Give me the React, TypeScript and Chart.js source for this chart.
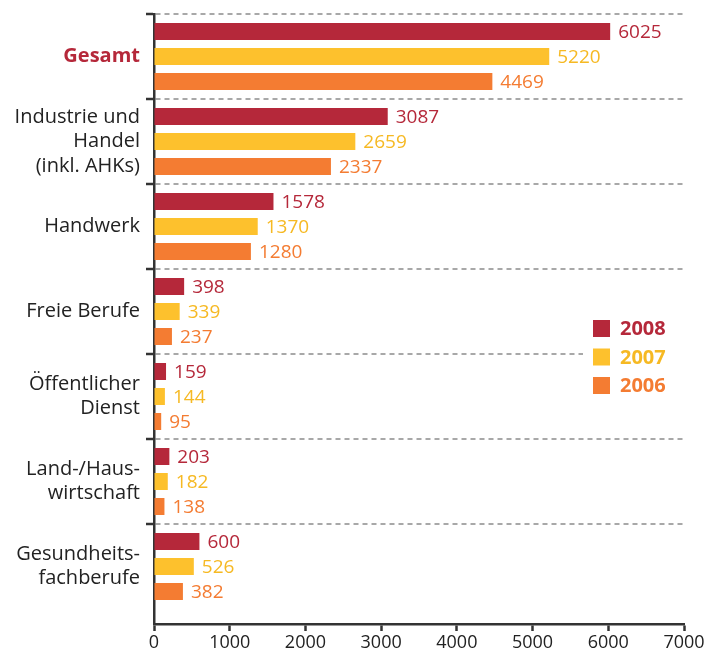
import React, { useEffect, useRef } from "react";
import { Chart, registerables, CategoryScale } from "chart.js";

const categories: (string | string[])[] = [
  "Gesamt",
  ["Industrie und", "Handel", "(inkl. AHKs)"],
  "Handwerk",
  "Freie Berufe",
  ["Öffentlicher", "Dienst"],
  ["Land-/Haus-", "wirtschaft"],
  ["Gesundheits-", "fachberufe"],
];
const seriesNames = ["2008", "2007", "2006"];
const values2008 = [6025, 3087, 1578, 398, 159, 203, 600];
const values2007 = [5220, 2659, 1370, 339, 144, 182, 526];
const values2006 = [4469, 2337, 1280, 237, 95, 138, 382];
const barColors = ["#b5283a", "#fdc12d", "#f47c32"];
const textColors = ["#b5283a", "#f6b923", "#f47c32"];
const xTicks = [0, 1000, 2000, 3000, 4000, 5000, 6000, 7000];

const FONT = "'Open Sans', 'Noto Sans', sans-serif";
const BOTTOM_EXTRA = 15 / 85;

class PaddedCategoryScale extends (CategoryScale as any) {
  static id = "paddedCategory";
  static defaults = (CategoryScale as any).defaults;
  buildTicks() {
    const t = super.buildTicks();
    (this as any)._valueRange += BOTTOM_EXTRA;
    return t;
  }
}

Chart.register(...registerables, PaddedCategoryScale as any);

const valueLabels = {
  id: "valueLabels",
  afterDatasetsDraw(chart: any) {
    const ctx = chart.ctx;
    ctx.save();
    ctx.font = `19px ${FONT}`;
    ctx.textAlign = "left";
    ctx.textBaseline = "middle";
    chart.data.datasets.forEach((ds: any, di: number) => {
      const meta = chart.getDatasetMeta(di);
      ctx.fillStyle = textColors[di];
      meta.data.forEach((el: any, i: number) => {
        ctx.fillText(String(ds.data[i]), el.x + 8, el.y + 1);
      });
    });
    ctx.restore();
  },
};

const customLegend = {
  id: "customLegend",
  afterDraw(chart: any) {
    const ctx = chart.ctx;
    const area = chart.chartArea;
    const x0 = area.right - 91;
    const y0 = 320;
    ctx.save();
    ctx.fillStyle = "#ffffff";
    ctx.fillRect(x0 - 10, y0 - 8, area.right - x0 + 20, 90);
    ctx.font = `bold 20px ${FONT}`;
    ctx.textBaseline = "middle";
    ctx.textAlign = "left";
    chart.data.datasets.forEach((ds: any, di: number) => {
      const y = y0 + di * 28.5;
      ctx.fillStyle = ds.backgroundColor;
      ctx.fillRect(x0, y, 17, 17);
      ctx.fillStyle = textColors[di];
      ctx.fillText(ds.label, x0 + 27, y + 9.5);
    });
    ctx.restore();
  },
};

export default function App() {
  const ref = useRef<HTMLCanvasElement>(null);
  useEffect(() => {
    if (!ref.current) return;
    const chart = new Chart(ref.current, {
      type: "bar",
      data: {
        labels: categories as any,
        datasets: [values2008, values2007, values2006].map((d, i) => ({
          label: seriesNames[i],
          data: d,
          backgroundColor: barColors[i],
          categoryPercentage: 0.882,
          barPercentage: 0.68,
        })),
      },
      options: {
        indexAxis: "y",
        animation: false,
        responsive: true,
        maintainAspectRatio: false,
        layout: { padding: { top: 14, right: 23, left: 0, bottom: 0 } },
        plugins: { legend: { display: false }, tooltip: { enabled: false } },
        scales: {
          x: {
            type: "linear",
            min: 0,
            max: 7000,
            afterBuildTicks: (s: any) => {
              s.ticks = xTicks.map((v) => ({ value: v }));
            },
            afterFit: (s: any) => {
              s.height = 30;
              s.paddingLeft = 0;
              s.paddingRight = 0;
            },
            ticks: {
              color: "#222",
              font: { family: FONT, size: 18 },
              padding: 1,
              callback: (v: any) => String(v),
            },
            grid: {
              drawOnChartArea: false,
              tickLength: 7,
              tickColor: "#333",
              tickWidth: 2.5,
            },
            border: { color: "#333", width: 2.5 },
          },
          y: {
            type: "paddedCategory" as any,
            offset: true,
            afterFit: (s: any) => {
              s.width = 154;
              s.paddingTop = 0;
              s.paddingBottom = 0;
            },
            ticks: {
              padding: 6,
              color: (c: any) => (c.index === 0 ? "#b5283a" : "#222"),
              font: (c: any) => ({
                family: FONT,
                size: 20,
                weight: c.index === 0 ? "bold" : "normal",
                lineHeight: 1.22,
              }),
            },
            grid: {
              offset: true,
              color: (c: any) => (c.type === "tick" ? "#a8a8a8" : "rgba(0,0,0,0)"),
              lineWidth: 2,
              tickLength: 8,
              tickWidth: 2.5,
              tickColor: (c: any) => (c.type === "tick" ? "#333" : "rgba(0,0,0,0)"),
              tickBorderDash: [],
            },
            border: { color: "#333", width: 2.5, dash: [5, 4] },
          },
        },
      },
      plugins: [valueLabels, customLegend],
    });
    return () => chart.destroy();
  }, []);
  return (
    <div style={{ position: "fixed", left: 0, top: 0, width: 707, height: 654 }}>
      <canvas ref={ref} />
    </div>
  );
}
